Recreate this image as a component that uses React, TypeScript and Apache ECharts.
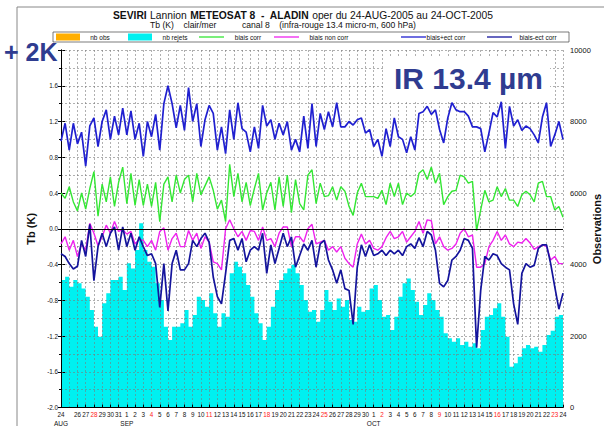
import React, { useEffect, useRef } from "react";
import * as echarts from "echarts";

// Half-day samples from 24-AUG-2005 00h to 24-OCT-2005 00h
const START_UTC = Date.UTC(2005, 7, 24);
const STEP_DAYS = 0.5;
const N_DAYS = 61;
const MONTHS = ["JAN", "FEB", "MAR", "APR", "MAY", "JUN", "JUL", "AUG", "SEP", "OCT", "NOV", "DEC"];

const biaisPlusEct = [
  0.98, 1.18, 0.88, 1.18, 0.95, 1.08, 0.7, 1.15, 1.24, 0.92, 1.2, 1.33, 1.0, 1.26, 1.05, 1.35, 1.05, 1.32, 1.0, 1.18, 0.81,
  1.2, 1.03, 1.28, 0.88, 1.4, 1.6, 1.4, 1.13, 1.38, 1.1,
  1.58, 1.2, 1.4, 0.92, 1.22, 1.38, 1.29, 0.88, 1.14, 0.84, 1.33, 1.0, 1.41, 1.12, 1.08, 0.86, 1.14, 0.9, 1.38, 1.15,
  1.22, 1.0, 1.18, 1.05, 1.2, 0.88, 1.0, 0.86, 1.26, 0.9, 1.4,
  0.92, 1.29, 1.11, 1.31, 1.14, 1.41, 1.14, 1.14, 1.2, 1.16, 1.22, 1.24, 1.07, 1.11, 0.92, 1.0, 0.81, 1.12, 0.92, 1.24,
  1.03, 1.0, 0.85, 1.03, 0.88, 1.29, 1.31, 1.37, 1.28, 1.33, 1.11,
  0.96, 1.24, 1.41, 1.33, 1.31, 1.31, 1.26, 1.14, 1.14, 1.12, 0.86, 1.07, 1.3, 1.25, 1.42, 0.9, 1.37, 1.15, 1.22, 1.1,
  1.15, 1.12, 1.05, 0.96, 1.25, 1.41, 0.92, 1.05, 1.2, 1.0,
];

const biaisCorr = [
  0.4, 0.34, 0.47, 0.3, 0.2, 0.4, 0.22, 0.45, 0.64, 0.14, 0.5, 0.3, 0.58, 0.25, 0.52, 0.69, 0.28, 0.62, 0.26, 0.55, 0.26,
  0.5, 0.25, 0.52, 0.08, 0.5, 0.58, 0.3, 0.6, 0.4, 0.55,
  0.6, 0.3, 0.62, 0.38, 0.48, 0.58, 0.43, 0.22, 0.32, 0.08, 0.72, 0.36, 0.62, 0.3, 0.52, 0.26, 0.45, 0.62, 0.21, 0.4,
  0.52, 0.21, 0.58, 0.25, 0.6, 0.18, 0.55, 0.28, 0.21, 0.6, 0.66,
  0.28, 0.51, 0.36, 0.37, 0.47, 0.32, 0.47, 0.42, 0.25, 0.15, 0.4, 0.51, 0.36, 0.36, 0.36, 0.34, 0.43, 0.27, 0.51, 0.36,
  0.51, 0.27, 0.4, 0.36, 0.4, 0.62, 0.66, 0.55, 0.69, 0.51, 0.62,
  0.27, 0.36, 0.42, 0.43, 0.6, 0.58, 0.51, 0.53, -0.02, 0.21, 0.43, 0.3, 0.32, 0.47, 0.36, 0.45, 0.32, 0.32, 0.25, 0.38,
  0.42, 0.38, 0.3, 0.51, 0.53, 0.36, 0.36, 0.21, 0.25, 0.13,
];

const biaisNonCorr = [
  -0.17, -0.09, -0.24, -0.13, -0.31, -0.17, -0.24, 0.06, -0.05, -0.19, -0.09, 0.04, -0.05, 0.08, -0.03, -0.01, -0.06,
  -0.03, -0.17, -0.12, -0.13, -0.2, -0.13, -0.24, -0.03, 0.01, -0.24, -0.11, -0.05, -0.2, -0.2,
  -0.02, -0.13, -0.05, -0.22, -0.09, -0.15, -0.37, -0.39, -0.46, 0.0, 0.1, 0.0, -0.09, -0.03, -0.13, -0.02, -0.03, -0.13,
  0.02, -0.13, -0.11, -0.2, -0.05, 0.02, 0.02, -0.2, -0.09, -0.09, -0.15, 0.0, 0.05,
  -0.17, -0.15, -0.13, -0.24, -0.2, -0.26, -0.2, -0.33, -0.39, -0.43, -0.17, -0.06, -0.17, -0.13, -0.22, -0.24, -0.2,
  -0.1, -0.03, -0.11, -0.09, -0.03, -0.15, -0.09, -0.03, 0.08, -0.05, 0.1, 0.09, -0.17, -0.09,
  -0.2, -0.24, -0.22, -0.17, -0.05, 0.0, -0.09, -0.07, -0.43, -0.43, -0.39, -0.2, -0.13, -0.03, -0.13, -0.07, -0.17, -0.2,
  -0.15, -0.16, -0.11, -0.16, -0.23, -0.2, -0.18, -0.2, -0.35, -0.31, -0.39, -0.39,
];

const biaisMinusEct = [
  -0.28, -0.31, -0.39, -0.45, -0.42, -0.13, -0.31, 0.05, -0.58, -0.2, -0.05, -0.2, -0.05, 0.02, -0.24, 0.02, -0.2, -0.05,
  -0.24, -0.09, -0.2, -0.3, -0.28, -0.39, -0.88, -0.39, -0.92, -0.39, -0.24, -0.46, -0.46,
  -0.39, -0.13, -0.2, -0.11, -0.05, -0.15, -0.54, -0.76, -0.84, -0.5, -0.13, -0.11, -0.24, -0.11, -0.37, -0.24, -0.2,
  -0.24, -0.05, -0.5, -0.18, -0.39, -0.22, -0.05, -0.2, -0.09, -0.43, -0.3, -0.17, -0.24, -0.13,
  -0.43, -0.17, -0.13, -0.35, -0.46, -0.61, -0.46, -0.67, -0.69, -1.07, -0.43, -0.18, -0.31, -0.18, -0.3, -0.28, -0.24,
  -0.3, -0.24, -0.28, -0.24, -0.3, -0.2, -0.17, -0.22, -0.1, -0.2, -0.03, -0.07, -0.24, -0.61,
  -0.65, -0.58, -0.35, -0.31, -0.24, -0.11, -0.13, -0.22, -1.33, -0.69, -0.31, -0.35, -0.28, -0.3, -0.39, -0.43, -0.46,
  -0.84, -1.07, -0.5, -0.39, -0.43, -0.41, -0.22, -0.18, -0.18, -0.39, -0.65, -0.9, -0.72,
];

const nbRejets = [
  3566, 3660, 3380, 3566, 3473, 3330, 3100, 2728, 2262, 1982, 2914, 3193, 3566, 3566, 3660, 3287, 4033, 3890, 4406, 5152,
  4406, 4080, 3940, 3473, 3007, 2262, 1889, 2262, 2262, 2355, 2728,
  2262, 2590, 3100, 3007, 2821, 3193, 2635, 2262, 2635, 2541, 3753, 4080, 3940, 3753, 3430, 3100, 2635, 2355, 1889, 2262,
  2821, 3287, 3566, 3753, 3890, 3990, 3753, 3430, 3007, 2680, 2728,
  2400, 2728, 3287, 2960, 2728, 3050, 2821, 3007, 2448, 2400, 2821, 2680, 2728, 3330, 3430, 3007, 2541, 2590, 2168, 2541,
  3100, 3473, 3610, 3287, 2960, 2590, 2870, 3193, 3007, 2728, 2541,
  2075, 1935, 1840, 1935, 1750, 1840, 1702, 1795, 1655, 2168, 2541, 2590, 2775, 2914, 2541, 1982, 1142, 1236, 1422, 1655,
  1750, 1655, 1702, 1560, 1750, 2030, 2150, 2541, 2590, 2448,
];

const legendItems = [
  { name: "nb obs", kind: "box", color: "#ffae00" },
  { name: "nb rejets", kind: "box", color: "#00f0f0" },
  { name: "biais corr", kind: "line", color: "#33e633" },
  { name: "biais non corr", kind: "line", color: "#ee22ee" },
  { name: "biais+ect corr", kind: "line", color: "#2020d0" },
  { name: "biais-ect corr", kind: "line", color: "#14149c" },
];

const FONT = "'Liberation Sans', Arial, sans-serif";
const NAVY = "#2f3c90";

const toPts = (arr: number[]) => arr.map((v, i) => [i * STEP_DAYS, v]);

export default function App() {
  const ref = useRef<HTMLDivElement>(null);

  useEffect(() => {
    if (!ref.current) return;
    const chart = echarts.init(ref.current, null, { renderer: "svg" });

    const gridLine = { show: true, lineStyle: { color: "#7a7a7a", type: [2, 2] as any, width: 0.6 } };

    const legendX = [56, 128, 199, 274, 401, 487];
    const legendTextX = [100, 175, 248, 329, 446, 538];
    const legendGraphics: any[] = [
      {
        type: "rect",
        shape: { x: 53, y: 32, width: 516, height: 10 },
        style: { fill: "#fff", stroke: "#444", lineWidth: 0.7 },
        z: 100,
      },
    ];
    legendItems.forEach((it, k) => {
      if (it.kind === "box") {
        legendGraphics.push({
          type: "rect",
          shape: { x: legendX[k], y: 33.5, width: 24, height: 7 },
          style: { fill: it.color },
          z: 101,
        });
      } else {
        legendGraphics.push({
          type: "line",
          shape: { x1: legendX[k], y1: 37, x2: legendX[k] + 25, y2: 37 },
          style: { stroke: it.color, lineWidth: 1.3 },
          z: 101,
        });
      }
      legendGraphics.push({
        type: "text",
        x: legendTextX[k],
        y: 37.3,
        style: { text: it.name, fontSize: 6.5, fontFamily: FONT, fill: "#111", align: "center", verticalAlign: "middle" },
        z: 101,
      });
    });

    const option: any = {
      animation: false,
      backgroundColor: "#fff",
      grid: { left: 61, right: 41, top: 50, bottom: 18.5, containLabel: false, outerBoundsMode: "none" },
      xAxis: {
        type: "value",
        min: 0,
        max: N_DAYS,
        interval: 1,
        z: 1,
        axisLine: { show: true, onZero: false, lineStyle: { color: "#000", width: 1 } },
        axisTick: { show: true, inside: true, length: 3, lineStyle: { color: "#000" } },
        splitLine: gridLine,
        axisLabel: {
          margin: 3,
          showMinLabel: true,
          showMaxLabel: true,
          formatter: (v: number) => {
            const d = new Date(START_UTC + v * 86400000);
            const day = d.getUTCDate();
            const sunday = d.getUTCDay() === 0;
            let s = sunday ? `{r|${day}}` : `{d|${day}}`;
            if (v === 0 || day === 1) s += `\n{m|${MONTHS[d.getUTCMonth()]}}`;
            return s;
          },
          rich: {
            d: { fontSize: 6.3, fontFamily: FONT, color: "#111", lineHeight: 8 },
            r: { fontSize: 6.3, fontFamily: FONT, color: "#ff2020", lineHeight: 8 },
            m: { fontSize: 6.5, fontFamily: FONT, color: "#111", lineHeight: 10 },
          },
        },
      },
      yAxis: [
        {
          type: "value",
          min: -2,
          max: 2,
          interval: 0.4,
          position: "left",
          z: 1,
          name: "Tb (K)",
          nameLocation: "middle",
          nameGap: 19,
          nameRotate: 90,
          nameTextStyle: { fontSize: 11, fontWeight: "bold", fontFamily: FONT, color: "#111" },
          axisLine: { show: true, onZero: false, lineStyle: { color: "#000", width: 1 } },
          axisTick: { show: true, length: 3, lineStyle: { color: "#000" } },
          minorTick: { show: true, splitNumber: 2, length: 2, lineStyle: { color: "#000" } },
          splitLine: gridLine,
          minorSplitLine: gridLine,
          axisLabel: {
            margin: 3,
            fontSize: 6.3,
            fontFamily: FONT,
            color: "#111",
            formatter: (v: number) => {
              if (Math.abs(v - 2) < 1e-6) return "";
              const x = Math.abs(v) < 1e-9 ? 0 : v;
              return x.toFixed(1);
            },
          },
        },
        {
          type: "value",
          min: 0,
          max: 10000,
          interval: 2000,
          position: "right",
          offset: 3,
          axisLine: { show: true, lineStyle: { color: "#000", width: 1 } },
          axisTick: { show: true, length: 4, lineStyle: { color: "#000" } },
          minorTick: { show: true, splitNumber: 2, length: 4, lineStyle: { color: "#000" } },
          splitLine: { show: false },
          axisLabel: { margin: 4, fontSize: 7.5, fontFamily: FONT, color: "#111", formatter: (v: number) => String(v) },
        },
      ],
      series: [
        {
          name: "nb rejets",
          type: "line",
          yAxisIndex: 1,
          step: "end",
          symbol: "none",
          z: 0,
          lineStyle: { width: 0 },
          areaStyle: { color: "#00f0f0", opacity: 1 },
          data: toPts(nbRejets),
        },
        {
          name: "biais corr",
          type: "line",
          yAxisIndex: 0,
          symbol: "none",
          lineStyle: { color: "#33e633", width: 1.4 },
          data: toPts(biaisCorr),
          markLine: {
            silent: true,
            symbol: "none",
            label: { show: false },
            lineStyle: { color: "#000", width: 1.2, type: "solid" },
            data: [{ yAxis: 0 }],
          },
        },
        {
          name: "biais non corr",
          type: "line",
          yAxisIndex: 0,
          symbol: "none",
          lineStyle: { color: "#ee22ee", width: 1.4 },
          data: toPts(biaisNonCorr),
        },
        {
          name: "biais+ect corr",
          type: "line",
          yAxisIndex: 0,
          symbol: "none",
          lineStyle: { color: "#2020d0", width: 1.7 },
          data: toPts(biaisPlusEct),
        },
        {
          name: "biais-ect corr",
          type: "line",
          yAxisIndex: 0,
          symbol: "none",
          lineStyle: { color: "#14149c", width: 1.7 },
          data: toPts(biaisMinusEct),
        },
      ],
      graphic: [
        {
          type: "rect",
          shape: { x: 17, y: 7, width: 700, height: 500 },
          style: { fill: "none", stroke: "#888", lineWidth: 1 },
          z: -1,
        },
        {
          type: "text",
          x: 303,
          y: 15,
          style: {
            text: "{b|SEVIRI} {n|Lannion} {b|METEOSAT 8  -  ALADIN} {n|oper du 24-AUG-2005 au 24-OCT-2005}",
            align: "center",
            verticalAlign: "middle",
            rich: {
              b: { fontSize: 10.3, fontWeight: "bold", fontFamily: FONT, fill: "#111" },
              n: { fontSize: 10.3, fontFamily: FONT, fill: "#111" },
            },
          },
          z: 100,
        },
        {
          type: "text",
          x: 150,
          y: 24.5,
          style: { text: "Tb (K)    clair/mer", fontSize: 8.6, fontFamily: FONT, fill: "#111", verticalAlign: "middle" },
          z: 100,
        },
        {
          type: "text",
          x: 242,
          y: 24.5,
          style: {
            text: "canal 8    (infra-rouge 13.4 micro-m, 600 hPa)",
            fontSize: 8.6,
            fontFamily: FONT,
            fill: "#111",
            verticalAlign: "middle",
          },
          z: 100,
        },
        {
          type: "text",
          x: 597,
          y: 229,
          rotation: Math.PI / 2,
          style: {
            text: "Observations",
            fontSize: 11,
            fontWeight: "bold",
            fontFamily: FONT,
            fill: "#111",
            align: "center",
            verticalAlign: "middle",
          },
          z: 100,
        },
        ...legendGraphics,
        {
          type: "text",
          x: 4,
          y: 52,
          style: { text: "+ 2K", fontSize: 25, fontWeight: "bold", fontFamily: FONT, fill: NAVY, verticalAlign: "middle" },
          z: 110,
        },
        {
          type: "rect",
          shape: { x: 385, y: 56, width: 165, height: 44 },
          style: { fill: "#fff" },
          z: 105,
        },
        {
          type: "text",
          x: 394,
          y: 78,
          style: { text: "IR 13.4 µm", fontSize: 30, fontWeight: "bold", fontFamily: FONT, fill: NAVY, verticalAlign: "middle" },
          z: 110,
        },
      ],
    };

    chart.setOption(option);
    return () => chart.dispose();
  }, []);

  return <div ref={ref} style={{ position: "fixed", left: 0, top: 0, width: 604, height: 426, background: "#fff" }} />;
}
